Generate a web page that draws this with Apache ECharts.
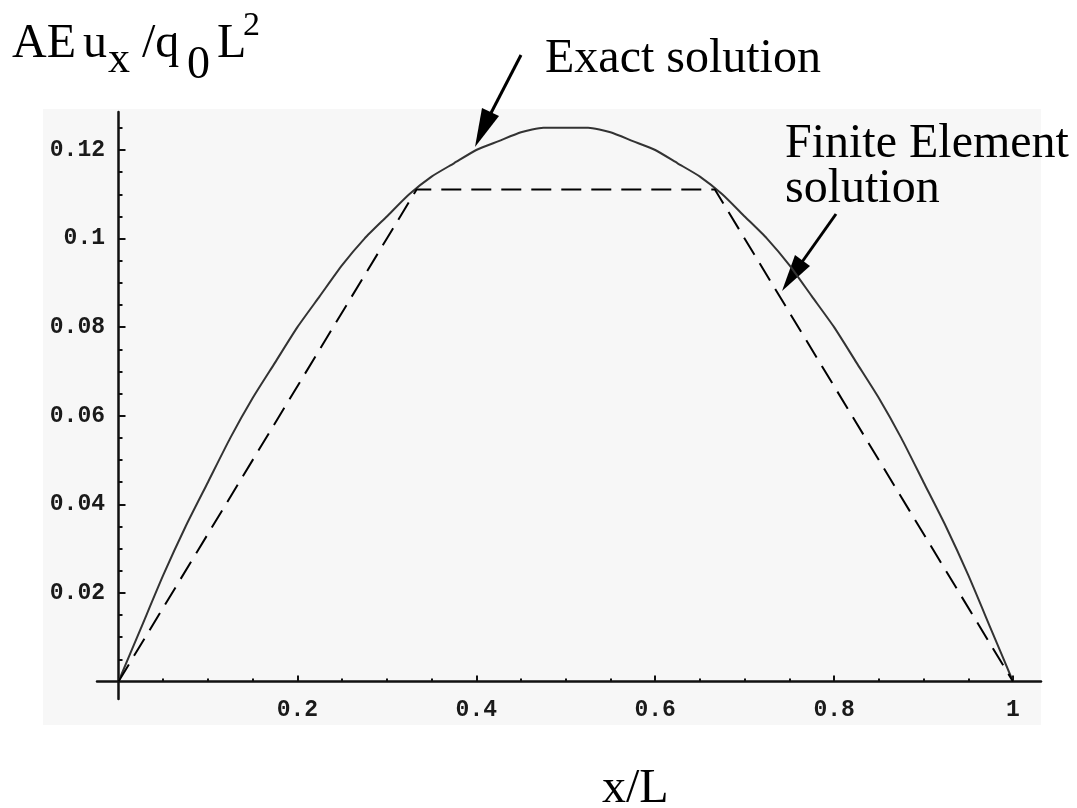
<!DOCTYPE html>
<html>
<head>
<meta charset="utf-8">
<title>AE u_x / q0 L^2 vs x/L</title>
<script src="https://cdn.jsdelivr.net/npm/echarts@6/dist/echarts.min.js"></script>
<style>
  html, body { margin: 0; padding: 0; background: #ffffff; }
  #chart { width: 1077px; height: 808px; }
</style>
</head>
<body>
<div id="chart"></div>
<script>
// Exact displacement, sampled along the bar (x/L)
const exactX = [0, 0.025, 0.05, 0.075, 0.1, 0.125, 0.15, 0.175, 0.2, 0.225, 0.25, 0.275, 0.3, 0.325, 0.35, 0.375, 0.4, 0.425, 0.45, 0.475, 0.5,
                0.525, 0.55, 0.575, 0.6, 0.625, 0.65, 0.675, 0.7, 0.725, 0.75, 0.775, 0.8, 0.825, 0.85, 0.875, 0.9, 0.925, 0.95, 0.975, 1];
const exactU = [0, 0.012, 0.024, 0.035, 0.045, 0.055, 0.064, 0.072, 0.080, 0.087, 0.094, 0.100, 0.105, 0.110, 0.114, 0.117, 0.120, 0.122, 0.124, 0.125, 0.125,
                0.125, 0.124, 0.122, 0.120, 0.117, 0.114, 0.110, 0.105, 0.100, 0.094, 0.087, 0.080, 0.072, 0.064, 0.055, 0.045, 0.035, 0.024, 0.012, 0];

// Three-element finite element solution: nodal values
const feX = [0, 0.3333, 0.6667, 1];
const feU = [0, 0.1111, 0.1111, 0];

// Tick positions
const xMajorTicks = [0.2, 0.4, 0.6, 0.8, 1];
const xMinorTicks = [0.05, 0.1, 0.15, 0.25, 0.3, 0.35, 0.45, 0.5, 0.55, 0.65, 0.7, 0.75, 0.85, 0.9, 0.95];
const yMajorTicks = [0.02, 0.04, 0.06, 0.08, 0.1, 0.12];
const yMinorTicks = [0.005, 0.01, 0.015, 0.025, 0.03, 0.035, 0.045, 0.05, 0.055, 0.065, 0.07, 0.075,
                     0.085, 0.09, 0.095, 0.105, 0.11, 0.115, 0.125];

// Axis extents (axes cross at the origin)
const xRange = [-0.02404, 1.0313];
const yRange = [-0.00395, 0.12858];

const chart = echarts.init(document.getElementById('chart'), null, { renderer: 'canvas' });

const axisColor = '#111111';
const monoFont = '"Liberation Mono", "DejaVu Sans Mono", monospace';
const serifFont = '"Liberation Serif", "DejaVu Serif", serif';

function pairs(xs, ys) { return xs.map((x, i) => [x, ys[i]]); }

function baseAxis(range) {
  return {
    type: 'value',
    min: range[0],
    max: range[1],
    splitLine: { show: false },
    axisLine: { show: true, onZero: true, lineStyle: { color: axisColor, width: 2.5 } }
  };
}

function serifText(x, y, text, size) {
  return { type: 'text', x: x, y: y, style: { text: text, font: size + 'px ' + serifFont, fill: '#000', verticalAlign: 'middle' } };
}

const labelStyle = { color: '#1a1a1a', fontFamily: monoFont, fontSize: 23, fontWeight: 'bold' };

const option = {
  backgroundColor: '#ffffff',
  animation: false,
  grid: { left: 97, top: 112, width: 944, height: 587, containLabel: false },
  xAxis: [
    Object.assign(baseAxis(xRange), {
      position: 'bottom',
      axisTick: { show: true, inside: true, length: 6, customValues: xMajorTicks, lineStyle: { color: axisColor, width: 2 } },
      axisLabel: Object.assign({ show: true, customValues: xMajorTicks, margin: 0 }, labelStyle)
    }),
    Object.assign(baseAxis(xRange), {
      position: 'bottom',
      axisLine: { show: false, onZero: true },
      axisTick: { show: true, inside: true, length: 3, customValues: xMinorTicks, lineStyle: { color: axisColor, width: 2 } },
      axisLabel: { show: false }
    })
  ],
  yAxis: [
    Object.assign(baseAxis(yRange), {
      position: 'left',
      axisTick: { show: true, inside: true, length: 7, customValues: yMajorTicks, lineStyle: { color: axisColor, width: 2 } },
      axisLabel: Object.assign({ show: true, customValues: yMajorTicks, margin: -8 }, labelStyle)
    }),
    Object.assign(baseAxis(yRange), {
      position: 'left',
      axisLine: { show: false, onZero: true },
      axisTick: { show: true, inside: true, length: 4, customValues: yMinorTicks, lineStyle: { color: axisColor, width: 2 } },
      axisLabel: { show: false }
    })
  ],
  series: [
    {
      name: 'Exact solution',
      type: 'line',
      xAxisIndex: 0,
      yAxisIndex: 0,
      data: pairs(exactX, exactU),
      showSymbol: false,
      smooth: 0.2,
      lineStyle: { color: '#333333', width: 2 },
      z: 3
    },
    {
      name: 'Finite Element solution',
      type: 'line',
      xAxisIndex: 0,
      yAxisIndex: 0,
      data: pairs(feX, feU),
      showSymbol: false,
      lineStyle: { color: '#000000', width: 2, type: [20, 10] },
      z: 4
    }
  ],
  graphic: [
    // plot backdrop
    { type: 'rect', z: -10, silent: true, shape: { x: 43, y: 109, width: 998, height: 616 }, style: { fill: '#f7f7f7' } },

    // vertical axis title: AE u_x / q_0 L^2
    serifText(12, 44, 'AE', 48),
    serifText(83, 44, 'u', 48),
    serifText(108, 60, 'x', 44),
    serifText(142, 44, '/q', 48),
    serifText(187, 66, '0', 46),
    serifText(217, 44, 'L', 48),
    serifText(243, 26, '2', 34),

    // horizontal axis title
    serifText(602, 789, 'x/L', 48),

    // callouts
    serifText(545, 59, 'Exact solution', 48),
    { type: 'line', shape: { x1: 521, y1: 55, x2: 491, y2: 113 }, style: { stroke: '#000', lineWidth: 3 } },
    { type: 'polygon', shape: { points: [[475, 147], [482, 108], [499, 116]] }, style: { fill: '#000' } },

    serifText(785, 144, 'Finite Element', 48),
    serifText(785, 189, 'solution', 48),
    { type: 'line', shape: { x1: 836, y1: 214, x2: 802, y2: 262 }, style: { stroke: '#000', lineWidth: 3 } },
    { type: 'polygon', shape: { points: [[782, 291], [795, 255], [810, 266]] }, style: { fill: '#000' } }
  ]
};

chart.setOption(option);
</script>
</body>
</html>
